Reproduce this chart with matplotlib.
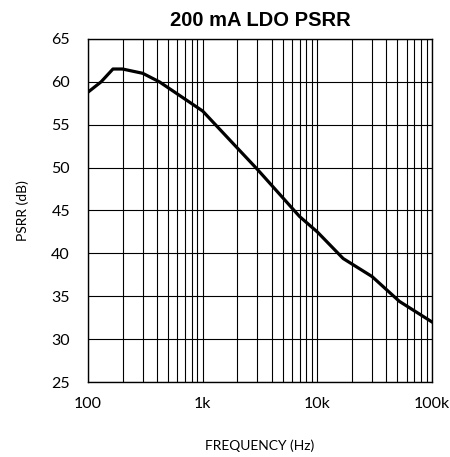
import matplotlib.pyplot as plt
from matplotlib.ticker import FixedLocator, LogLocator, NullFormatter

freq_hz = [100, 130, 165, 200, 300, 420, 1000, 1730, 3000, 7000, 10000, 16800, 30000, 52000, 100000]
psrr_db = [58.8, 60.0, 61.5, 61.5, 61.0, 60.0, 56.6, 53.2, 49.8, 44.3, 42.5, 39.4, 37.3, 34.4, 32.0]

x_ticks = [100, 1000, 10000, 100000]
x_labels = ['100', '1k', '10k', '100k']
y_ticks = [25, 30, 35, 40, 45, 50, 55, 60, 65]

plt.rcParams['font.family'] = ['Lato', 'DejaVu Sans']

fig = plt.figure(figsize=(4.5, 4.57), dpi=100)
ax = fig.add_axes([88 / 450, 1 - 382 / 457, 344 / 450, 343 / 457])

ax.plot(freq_hz, psrr_db, color='black', lw=2.3)

ax.set_xscale('log')
ax.set_xlim(100, 100000)
ax.set_ylim(25, 65)
ax.xaxis.set_major_locator(FixedLocator(x_ticks))
ax.set_xticklabels(x_labels)
ax.xaxis.set_minor_locator(LogLocator(base=10, subs=range(2, 10)))
ax.xaxis.set_minor_formatter(NullFormatter())
ax.set_yticks(y_ticks)

ax.grid(True, which='both', axis='x', color='black', lw=0.8)
ax.grid(True, which='major', axis='y', color='black', lw=0.8)
ax.tick_params(which='both', length=0, labelsize=11.5)
ax.tick_params(axis='x', pad=11)
ax.tick_params(axis='y', pad=13)
for s in ax.spines.values():
    s.set_linewidth(1.0)

ax.set_title('200 mA LDO PSRR', fontsize=14.5, fontweight='bold',
             family='Liberation Sans', pad=9)
ax.set_ylabel('PSRR (dB)', fontsize=10, labelpad=16)
ax.set_xlabel('FREQUENCY (Hz)', fontsize=10, labelpad=20)

fig.savefig('out.png', dpi=100)
